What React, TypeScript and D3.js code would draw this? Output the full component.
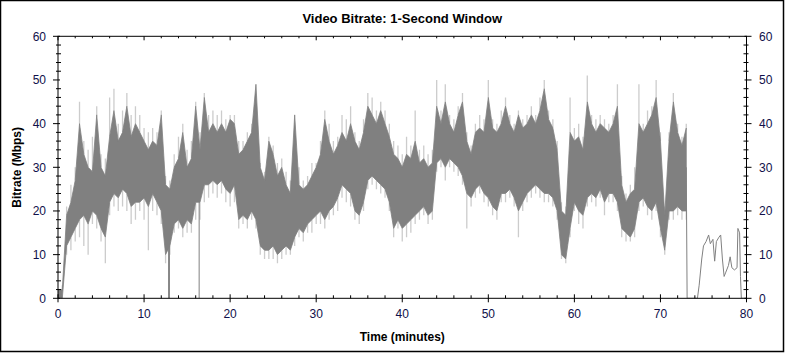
import React from "react";
import * as d3 from "d3";

// ---- data (Mbps), sampled every 0.5 minute from 0 to 73 ----
const STEP = 0.5;
const bandHi = [2,2,19,22,27,40,33,30,29,42,30,28,37,43,36,38,44,37,40,38,36,34,36,35,42,26,25,30,32,38,30,32,44,34,46,38,40,38,40,38,41,40,33,34,36,38,49,30,27,36,33,28,30,26,24,42,26,25,26,28,30,33,41,36,33,35,38,36,40,36,34,38,44,42,40,43,40,37,33,32,30,33,32,36,31,32,30,31,44,40,45,40,38,42,45,36,33,38,39,38,46,39,38,40,44,40,38,42,39,40,42,40,43,48,41,39,34,20,19,38,36,37,34,45,40,38,40,39,38,40,44,26,22,24,25,40,38,40,42,46,36,19,36,45,38,35,39];
const bandLo = [0,0,12,14,16,18,19,17,20,19,16,14,22,24,23,25,24,21,22,22,23,21,24,22,20,10,12,17,18,16,18,17,22,22,26,26,27,26,27,25,24,26,18,19,18,20,18,12,11,11,12,10,11,12,11,14,16,15,17,18,19,20,18,20,21,23,26,25,24,20,19,22,27,28,27,26,25,22,16,18,16,17,18,19,20,21,19,20,31,32,30,32,31,30,28,24,23,25,26,24,23,21,20,24,24,25,23,20,22,24,25,26,25,24,24,23,20,10,9,16,22,20,19,23,24,23,25,22,24,24,22,16,15,14,16,22,23,21,20,22,16,11,20,20,21,20,20];
const peakHi = [2,3,21,26,30,45,36,34,37,44,33,32,46,48,40,43,47,42,44,42,39,38,39,38,43,28,27,33,37,40,34,36,45,38,47,42,43,42,43,41,42,42,36,36,38,40,49,31,29,37,35,31,32,29,27,42,30,27,28,31,31,36,43,40,36,37,42,41,44,38,36,41,47,46,43,45,43,40,36,35,33,37,35,43,34,35,33,34,50,43,49,42,41,44,47,38,35,40,42,41,50,41,40,43,46,42,40,43,41,42,44,42,46,50,43,41,36,22,21,46,39,40,37,51,42,41,42,41,40,42,49,28,24,26,30,49,40,43,44,50,38,21,38,47,40,37,40];
const peakLo = [0,0,10,11,13,14,12,10,17,16,13,8,19,21,20,21,20,17,18,20,18,11,20,19,17,8,10,15,16,14,15,15,18,18,22,23,24,23,24,22,21,22,16,17,16,18,16,10,9,9,9,8,9,10,10,12,14,13,15,15,17,17,16,18,19,20,23,22,21,18,17,20,25,26,25,24,23,20,14,16,13,14,15,17,18,19,17,18,29,30,27,30,29,28,26,16,21,23,24,22,21,19,18,22,22,23,21,14,20,22,23,24,23,22,22,21,18,9,8,14,20,17,16,21,22,21,23,19,22,22,20,14,13,13,14,20,21,19,18,20,14,10,18,18,19,18,18];

// brief dropouts to zero inside the dense section
const dropTimes = [12.85, 12.95, 16.4];
const dropFrom = [16, 16, 24];

// the thin tail after the main programme ends
const tailTimes = [73.0, 73.1, 73.5, 74.3, 74.5, 74.8, 75.0, 75.3, 75.6, 75.8, 76.1, 76.3, 76.5, 76.8, 77.0, 77.2, 77.4, 77.6, 77.9, 78.1, 78.3, 78.6, 78.9, 79.0, 79.2, 79.3, 79.4, 80.0];
const tailVals  = [30,   0,    0,    0,    3,    9,    12,   13,   14.5, 12.5, 13.5, 8.5,  13,   14,   14.5, 9,    5,    6,    7.5,  9.5,  7,    6.5,  7,    16,   15,   5,    0,    0];

const xMajor = [0, 10, 20, 30, 40, 50, 60, 70, 80];
const yMajor = [0, 10, 20, 30, 40, 50, 60];

const W = 785, H = 353;
const L = 58, R = 746.5, T = 36.3, B = 298.3;
const FONT = "'Liberation Sans', Arial, sans-serif";
const LABEL_COLOR = "#10104a";
const DARK = "#808080";
const LIGHT = "#cccccc";

export default function App() {
  const x = d3.scaleLinear().domain([0, 80]).range([L, R]);
  const y = d3.scaleLinear().domain([0, 60]).range([B, T]);
  const times = bandHi.map((_, i) => i * STEP);

  const bandArea = d3.area<number>()
    .x((_, i) => x(times[i]))
    .y0((_, i) => y(bandLo[i]))
    .y1((d) => y(d));
  const tailLine = d3.line<number>()
    .x((_, i) => x(tailTimes[i]))
    .y((d) => y(d));

  const xMinor = d3.range(0, 80.001, 2).filter((v) => v % 10 !== 0);
  const yMinor = d3.range(0, 60.001, 2).filter((v) => v % 10 !== 0);

  return (
    <svg width={W} height={H} style={{ position: "fixed", left: 0, top: 0, background: "#fff" }}
      fontFamily={FONT}>
      <rect x={0.5} y={0.5} width={W - 2} height={H - 2} fill="#fff" stroke="#000" strokeWidth={1.5} />
      <text x={(L + R) / 2} y={23} textAnchor="middle" fontWeight="bold" fontSize={13}>
        Video Bitrate: 1-Second Window
      </text>
      <defs>
        <clipPath id="plotclip">
          <rect x={L} y={T} width={R - L} height={B - T} />
        </clipPath>
      </defs>
      <g clipPath="url(#plotclip)">
        {/* light spikes above and below the dense band */}
        {peakHi.map((v, i) => (
          <line key={"ph" + i} x1={x(times[i])} x2={x(times[i])} y1={y(bandHi[i])} y2={y(v)}
            stroke={LIGHT} strokeWidth={1.3} />
        ))}
        {peakLo.map((v, i) => (
          <line key={"pl" + i} x1={x(times[i])} x2={x(times[i])} y1={y(bandLo[i])} y2={y(v)}
            stroke={LIGHT} strokeWidth={1.3} />
        ))}
        <path d={bandArea(bandHi) || ""} fill={DARK} stroke={DARK} strokeWidth={0.8} strokeLinejoin="miter" />
        {dropTimes.map((t, i) => (
          <line key={i} x1={x(t)} x2={x(t)} y1={y(dropFrom[i])} y2={y(0)} stroke={DARK} strokeWidth={1} />
        ))}
        <path d={tailLine(tailVals) || ""} fill="none" stroke={DARK} strokeWidth={1} />
      </g>
      {/* frame */}
      <rect x={L} y={T} width={R - L} height={B - T} fill="none" stroke="#000" strokeWidth={1} />
      {/* x ticks */}
      {xMajor.map((v) => (
        <g key={"xm" + v}>
          <line x1={x(v)} x2={x(v)} y1={B - 4} y2={B + 4} stroke="#000" />
          <line x1={x(v)} x2={x(v)} y1={T} y2={T + 4} stroke="#000" />
          <text x={x(v)} y={318} textAnchor="middle" fontSize={12} fill={LABEL_COLOR}>{v}</text>
        </g>
      ))}
      {xMinor.map((v) => (
        <g key={"xn" + v}>
          <line x1={x(v)} x2={x(v)} y1={B - 3} y2={B} stroke="#000" />
          <line x1={x(v)} x2={x(v)} y1={T} y2={T + 2} stroke="#000" />
        </g>
      ))}
      {/* y ticks */}
      {yMajor.map((v) => (
        <g key={"ym" + v}>
          <line x1={L - 5} x2={L + 2} y1={y(v)} y2={y(v)} stroke="#000" />
          <line x1={R - 2} x2={R + 5} y1={y(v)} y2={y(v)} stroke="#000" />
          <text x={46} y={y(v) + 4.5} textAnchor="end" fontSize={12} fill={LABEL_COLOR}>{v}</text>
          <text x={759} y={y(v) + 4.5} textAnchor="start" fontSize={12} fill={LABEL_COLOR}>{v}</text>
        </g>
      ))}
      {yMinor.map((v) => (
        <g key={"yn" + v}>
          <line x1={L - 2} x2={L + 3} y1={y(v)} y2={y(v)} stroke="#000" />
          <line x1={R - 3} x2={R + 2} y1={y(v)} y2={y(v)} stroke="#000" />
        </g>
      ))}
      <text x={(L + R) / 2} y={341} textAnchor="middle" fontWeight="bold" fontSize={12}>
        Time (minutes)
      </text>
      <text transform={`translate(21, ${(T + B) / 2}) rotate(-90)`} textAnchor="middle" fontWeight="bold" fontSize={12}>
        Bitrate (Mbps)
      </text>
    </svg>
  );
}
